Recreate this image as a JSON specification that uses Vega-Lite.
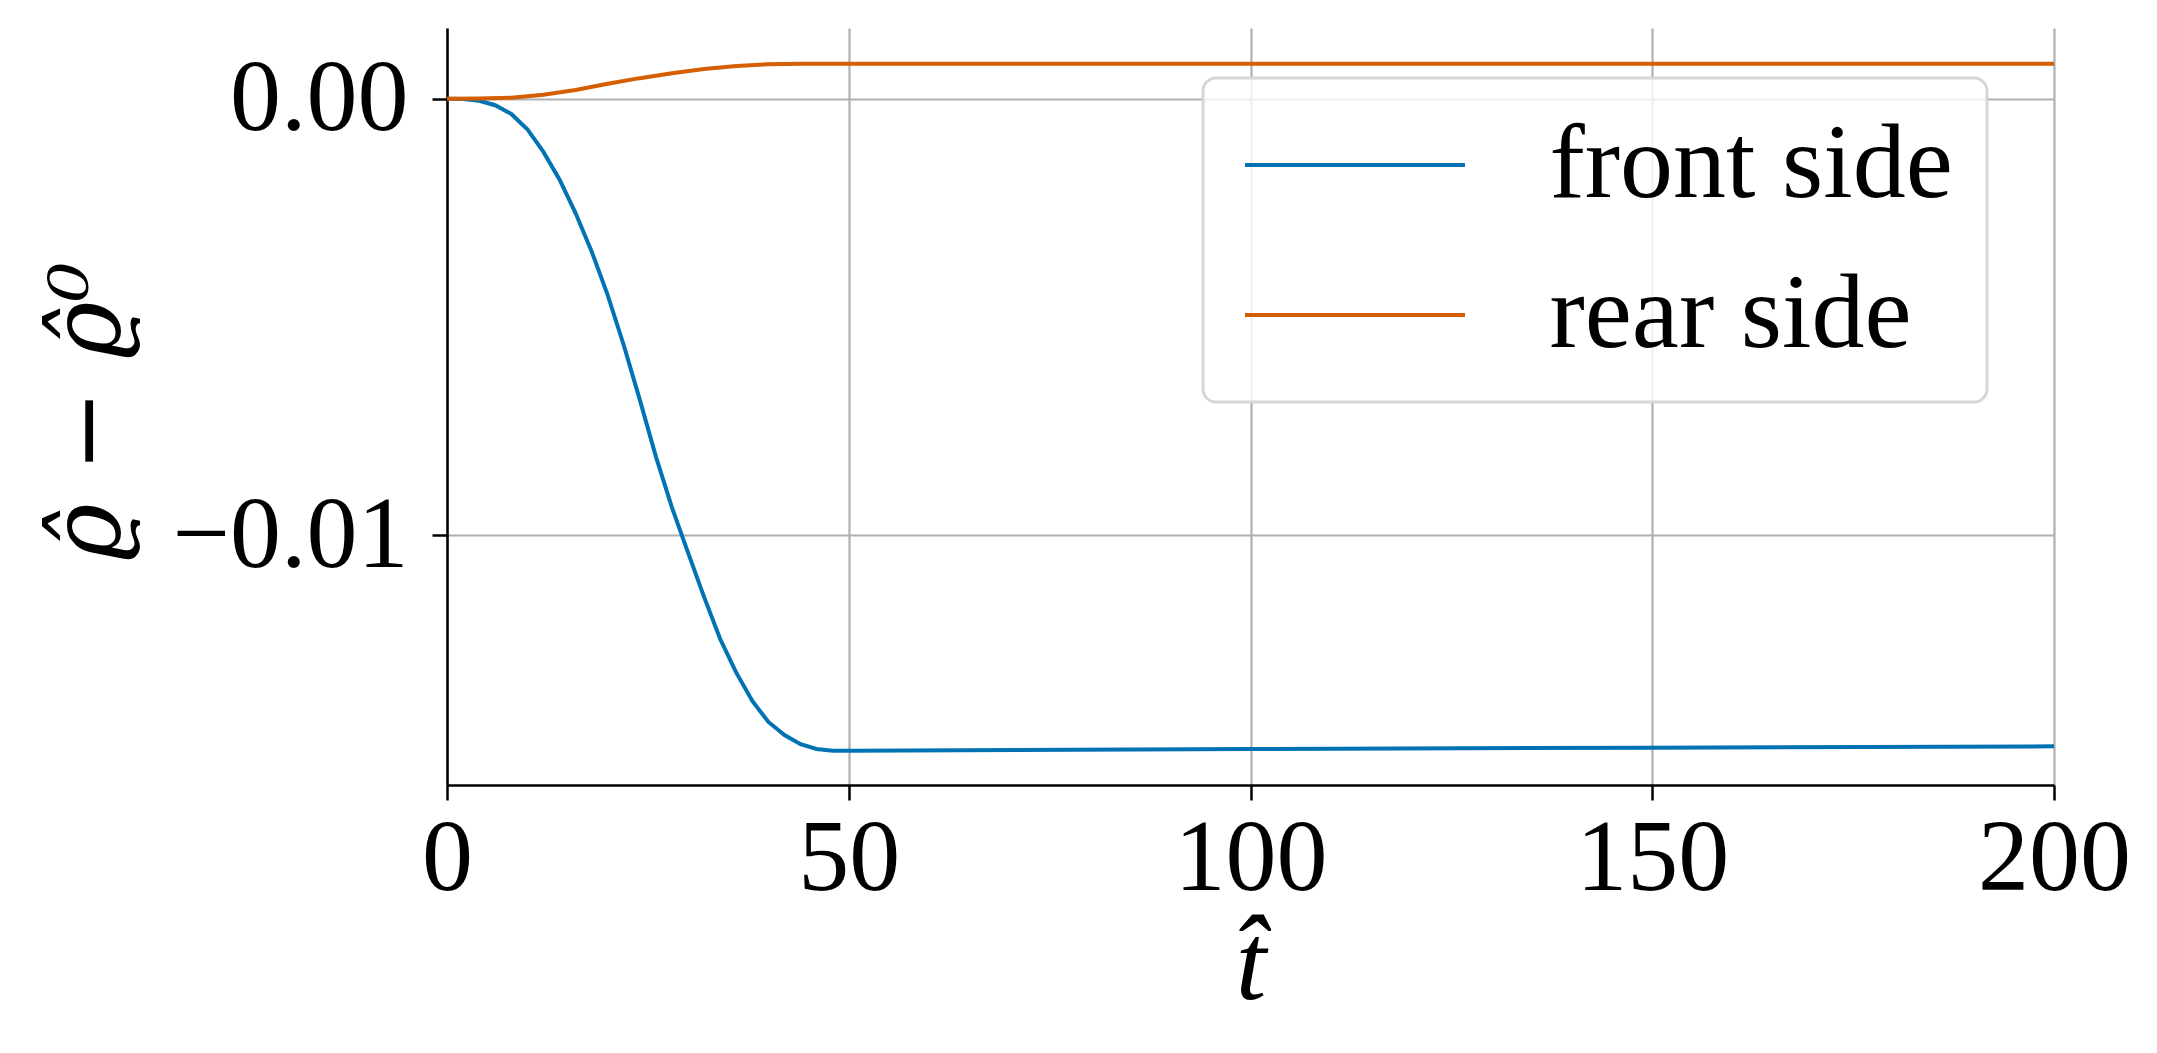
{
  "$schema": "https://vega.github.io/schema/vega-lite/v6.json",
  "width": 1607,
  "height": 757,
  "autosize": {"type": "none"},
  "padding": {"left": 447, "top": 28, "right": 103, "bottom": 268},
  "background": "white",
  "view": {"stroke": null},
  "config": {
    "font": "Liberation Serif",
    "legend": {"strokeWidth": 3},
    "axis": {
      "labelFont": "Liberation Serif",
      "labelFontSize": 102,
      "labelColor": "black",
      "labelLimit": 500,
      "titleColor": "black",
      "domainColor": "black",
      "domainWidth": 2.5,
      "tickColor": "black",
      "tickWidth": 2.5,
      "tickSize": 15,
      "gridColor": "#b0b0b0",
      "gridWidth": 2.2
    }
  },
  "data": {
    "values": [
      {"t": 0, "v": 0, "side": "front side"},
      {"t": 2, "v": -0.00001, "side": "front side"},
      {"t": 4, "v": -0.00005, "side": "front side"},
      {"t": 6, "v": -0.00015, "side": "front side"},
      {"t": 8, "v": -0.00035, "side": "front side"},
      {"t": 10, "v": -0.0007, "side": "front side"},
      {"t": 12, "v": -0.00122, "side": "front side"},
      {"t": 14, "v": -0.00185, "side": "front side"},
      {"t": 16, "v": -0.00262, "side": "front side"},
      {"t": 18, "v": -0.0035, "side": "front side"},
      {"t": 20, "v": -0.0045, "side": "front side"},
      {"t": 22, "v": -0.00565, "side": "front side"},
      {"t": 24, "v": -0.0069, "side": "front side"},
      {"t": 26, "v": -0.0082, "side": "front side"},
      {"t": 28, "v": -0.00937, "side": "front side"},
      {"t": 30, "v": -0.0104, "side": "front side"},
      {"t": 32, "v": -0.01142, "side": "front side"},
      {"t": 34, "v": -0.01238, "side": "front side"},
      {"t": 36, "v": -0.01315, "side": "front side"},
      {"t": 38, "v": -0.0138, "side": "front side"},
      {"t": 40, "v": -0.01428, "side": "front side"},
      {"t": 42, "v": -0.01458, "side": "front side"},
      {"t": 44, "v": -0.01479, "side": "front side"},
      {"t": 46, "v": -0.0149, "side": "front side"},
      {"t": 48, "v": -0.01494, "side": "front side"},
      {"t": 50, "v": -0.01494, "side": "front side"},
      {"t": 100, "v": -0.0149, "side": "front side"},
      {"t": 150, "v": -0.01487, "side": "front side"},
      {"t": 200, "v": -0.01484, "side": "front side"},
      {"t": 0, "v": 0, "side": "rear side"},
      {"t": 4, "v": 0.000003, "side": "rear side"},
      {"t": 8, "v": 0.00002, "side": "rear side"},
      {"t": 12, "v": 0.00009, "side": "rear side"},
      {"t": 16, "v": 0.0002, "side": "rear side"},
      {"t": 20, "v": 0.00034, "side": "rear side"},
      {"t": 24, "v": 0.00047, "side": "rear side"},
      {"t": 28, "v": 0.00058, "side": "rear side"},
      {"t": 32, "v": 0.00068, "side": "rear side"},
      {"t": 36, "v": 0.00075, "side": "rear side"},
      {"t": 40, "v": 0.00079, "side": "rear side"},
      {"t": 44, "v": 0.0008, "side": "rear side"},
      {"t": 50, "v": 0.0008, "side": "rear side"},
      {"t": 200, "v": 0.0008, "side": "rear side"}
    ]
  },
  "mark": {"type": "line", "strokeWidth": 4, "clip": true},
  "encoding": {
    "x": {
      "field": "t",
      "type": "quantitative",
      "scale": {"domain": [0, 200], "nice": false, "zero": false},
      "axis": {
        "values": [0, 50, 100, 150, 200],
        "labelPadding": 8,
        "labelFlush": false,
        "labelOverlap": false,
        "title": "t̂",
        "titleFont": "Liberation Serif",
        "titleFontStyle": "italic",
        "titleFontWeight": "normal",
        "titleFontSize": 110,
        "titlePadding": 2
      }
    },
    "y": {
      "field": "v",
      "type": "quantitative",
      "scale": {"domain": [-0.015725, 0.001619], "nice": false, "zero": false},
      "axis": {
        "values": [-0.01, 0],
        "labelExpr": "datum.value == 0 ? '0.00' : '\u22120.01'",
        "labelPadding": 24,
        "labelFlush": false,
        "labelOverlap": false,
        "title": "ϱ̂ − ϱ̂⁰",
        "titleFont": "DejaVu Serif",
        "titleFontStyle": "italic",
        "titleFontWeight": "normal",
        "titleFontSize": 98,
        "titleAngle": -90,
        "titleBaseline": "bottom",
        "titleAlign": "center",
        "titleX": -307,
        "titleY": 383
      }
    },
    "color": {
      "field": "side",
      "type": "nominal",
      "scale": {"domain": ["front side", "rear side"], "range": ["#0173b2", "#d55e00"]},
      "legend": {
        "title": null,
        "orient": "none",
        "legendX": 756,
        "legendY": 50,
        "padding": 34,
        "cornerRadius": 13,
        "strokeColor": "#d6d6d6",
        "fillColor": "rgba(255,255,255,0.8)",
        "symbolType": "M-2.2,0H2.2",
        "symbolSize": 10000,
        "symbolStrokeWidth": 4,
        "symbolOffset": 65,
        "labelOffset": 141.5,
        "rowPadding": 44,
        "labelFont": "Liberation Serif",
        "labelFontSize": 106,
        "labelColor": "black",
        "labelLimit": 1000
      }
    }
  }
}
